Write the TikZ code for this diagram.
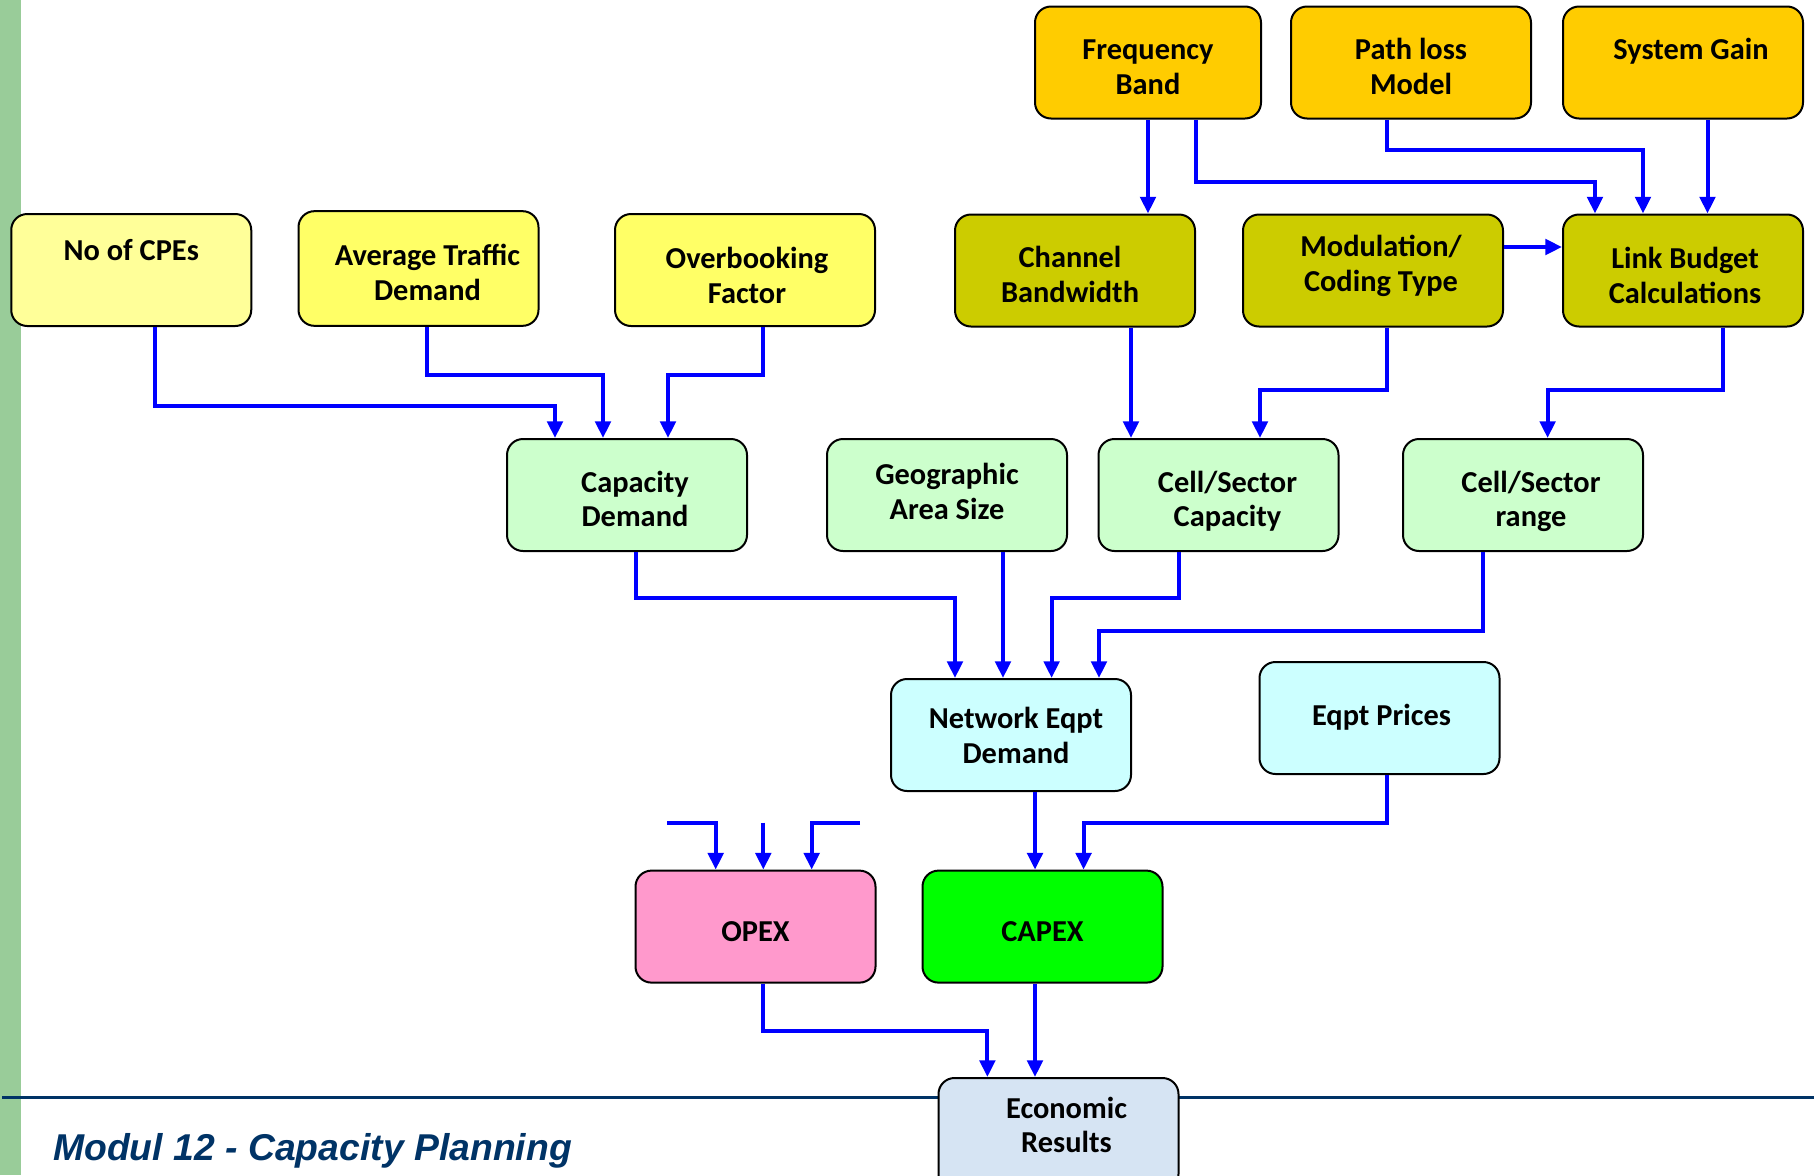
\documentclass[tikz,border=0pt]{standalone}
\usepackage{fontspec}
\usetikzlibrary{arrows.meta,calc}
\newfontfamily\boxfont{Carlito}
\newfontfamily\footfont{Liberation Sans}
\definecolor{arrowblue}{HTML}{0000FF}
\definecolor{navy}{HTML}{003366}
\definecolor{bargreen}{HTML}{99CC99}
\definecolor{paleyellow}{HTML}{FFFF99}
\definecolor{lightyellow}{HTML}{FFFF66}
\definecolor{gold}{HTML}{FFCC00}
\definecolor{olive}{HTML}{CCCC00}
\definecolor{mint}{HTML}{CCFFCC}
\definecolor{icecyan}{HTML}{CCFFFF}
\definecolor{pink}{HTML}{FF99CC}
\definecolor{brightgreen}{HTML}{00FF00}
\definecolor{steelpale}{HTML}{D6E4F3}
% box text: centre moved right by #1, first baseline raised by #2 above the box centre
\newcommand\boxlines[3][0pt]{\raisebox{#2}[0pt][0pt]{\makebox[0pt]{\kern#1\kern#1\begin{tabular}[t]{@{}c@{}}#3\end{tabular}}}}
\begin{document}
\begin{tikzpicture}[x=0.75pt,y=-0.75pt,
  box/.style={draw=black, line width=1.5pt, rounded corners=12pt, inner sep=0pt,
    font=\boxfont\bfseries\fontsize{22.8}{26}\selectfont,
    minimum width=180pt, minimum height=84pt},
  wide/.style={minimum width=195pt},
  conn/.style={draw=arrowblue, line width=3pt, -{Triangle[width=11.5pt,length=12.5pt]}}]
\useasboundingbox (0,0) rectangle (1814,1175);
% left band and footer rule
\fill[bargreen] (0,0) rectangle (21,1175);
\draw[navy, line width=1.6pt] (2,1097.5) -- (1814,1097.5);
\node[anchor=base west, inner sep=0pt, text=navy,
  font=\footfont\bfseries\itshape\fontsize{28}{32}\selectfont] (footer) at (53,1160) {Modul 12 - Capacity Planning};

% inputs
\node[box, fill=paleyellow] (cpe) at (131.25,270) {\boxlines{7.5pt}{No of CPEs}};
\node[box, fill=lightyellow, minimum height=86pt] (avg) at (418.5,268.5) {\boxlines[6.75pt]{1.9pt}{Average Traffic\\Demand}};
\node[box, wide, fill=lightyellow] (over) at (745,270) {\boxlines[1.5pt]{1.1pt}{Overbooking\\Factor}};

\node[box, fill=gold, minimum width=169.5pt] (freq) at (1148,62.5) {\boxlines{1.9pt}{Frequency\\Band}};
\node[box, fill=gold] (path) at (1411,62.5) {\boxlines{1.9pt}{Path loss\\Model}};
\node[box, fill=gold] (sys) at (1683,62.5) {\boxlines[6pt]{1.9pt}{System Gain}};

\node[box, fill=olive] (chan) at (1075,270.5) {\boxlines[-3.75pt]{1.9pt}{Channel\\Bandwidth}};
\node[box, wide, fill=olive] (mod) at (1373,270.5) {\boxlines[6pt]{10.5pt}{Modulation/\\Coding Type}};
\node[box, fill=olive] (link) at (1683,270.5) {\boxlines[1.5pt]{1.5pt}{Link Budget\\Calculations}};

% intermediate results
\node[box, fill=mint] (capd) at (627,495) {\boxlines[6pt]{2.25pt}{Capacity\\Demand}};
\node[box, fill=mint] (geo) at (947,495) {\boxlines{7.9pt}{Geographic\\Area Size}};
\node[box, fill=mint] (cellc) at (1218.5,495) {\boxlines[6.75pt]{2.25pt}{Cell/Sector\\Capacity}};
\node[box, fill=mint] (range) at (1523,495) {\boxlines[6pt]{2.25pt}{Cell/Sector\\range}};

\node[box, fill=icecyan] (net) at (1011,735) {\boxlines[3.75pt]{4.9pt}{Network Eqpt\\Demand}};
\node[box, fill=icecyan] (prices) at (1379.5,718) {\boxlines[1.5pt]{-5.25pt}{Eqpt Prices}};

% costs and results
\node[box, fill=pink] (opex) at (755.5,926.6) {\boxlines{-11.25pt}{OPEX}};
\node[box, fill=brightgreen] (capex) at (1042.5,926.6) {\boxlines{-11.25pt}{CAPEX}};
\node[box, fill=steelpale] (econ) at (1058.5,1134) {\boxlines[6pt]{12pt}{Economic\\Results}};

% connectors into Capacity Demand
\draw[conn] (cpe.south -| 155,0) |- (555,406) -- (555,0 |- capd.north);
\draw[conn] (avg.south -| 427,0) |- (603,375) -- (603,0 |- capd.north);
\draw[conn] (over.south -| 763,0) |- (668,375) -- (668,0 |- capd.north);

% radio parameters
\draw[conn] (freq.south -| 1148,0) -- (1148,0 |- chan.north);
\draw[conn] (freq.south -| 1195.5,0) |- (1595,182) -- (1595,0 |- link.north);
\draw[conn] (path.south -| 1387,0) |- (1643,150) -- (1643,0 |- link.north);
\draw[conn] (sys.south -| 1707.5,0) -- (1707.5,0 |- link.north);
\draw[conn] (mod.east |- 0,247) -- (link.west |- 0,247);

\draw[conn] (chan.south -| 1131,0) -- (1131,0 |- cellc.north);
\draw[conn] (mod.south -| 1387,0) |- (1260,390) -- (1260,0 |- cellc.north);
\draw[conn] (link.south -| 1722.5,0) |- (1547.6,390) -- (1547.6,0 |- range.north);

% into Network Eqpt Demand
\draw[conn] (capd.south -| 635.5,0) |- (955,598) -- (955,0 |- net.north);
\draw[conn] (geo.south -| 1003,0) -- (1003,0 |- net.north);
\draw[conn] (cellc.south -| 1179,0) |- (1051.6,598) -- (1051.6,0 |- net.north);
\draw[conn] (range.south -| 1483,0) |- (1099,631) -- (1099,0 |- net.north);

% into CAPEX
\draw[conn] (net.south -| 1035,0) -- (1035,0 |- capex.north);
\draw[conn] (prices.south -| 1387,0) |- (1083.6,822.7) -- (1083.6,0 |- capex.north);

% open inputs of OPEX
\coordinate (o1) at (667,822.7);
\coordinate (o2) at (763.3,822.7);
\coordinate (o3) at (860,822.7);
\draw[conn] (o1) -| (715.7,0 |- opex.north);
\draw[conn] (o2) -- (o2 |- opex.north);
\draw[conn] (o3) -| (811.7,0 |- opex.north);

% into Economic Results
\draw[conn] (opex.south -| 763.3,0) |- (987.4,1031) -- (987.4,0 |- econ.north);
\draw[conn] (capex.south -| 1035,0) -- (1035,0 |- econ.north);
\end{tikzpicture}
\end{document}
